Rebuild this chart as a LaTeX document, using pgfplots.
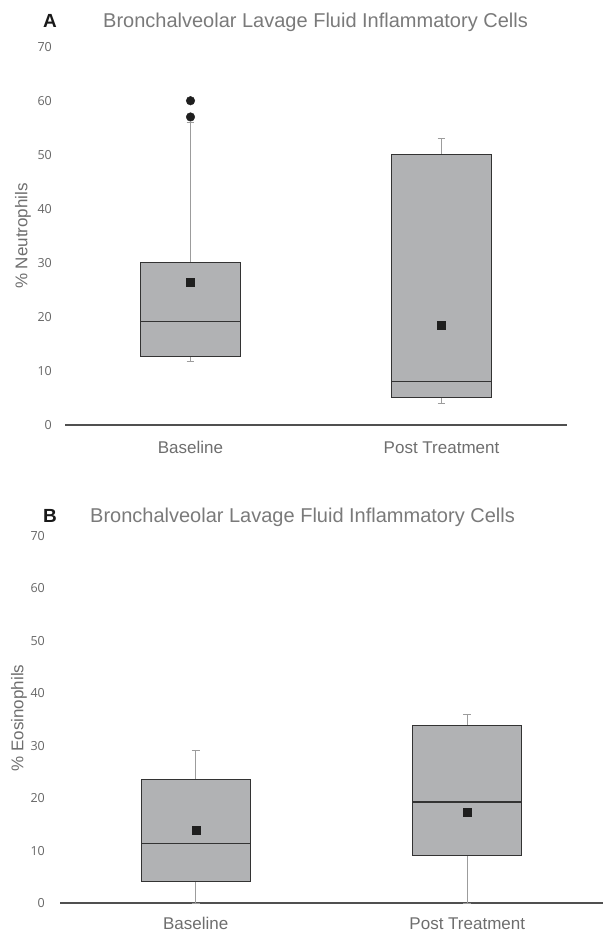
\documentclass[border=0pt]{standalone}
\usepackage{pgfplots}
\pgfplotsset{compat=1.18}
\usepgfplotslibrary{statistics}
\usepackage{fontspec}
\setmainfont{Liberation Sans}
\newfontfamily\tickfont{Open Sans}
\definecolor{boxfill}{HTML}{B1B2B4}
\definecolor{boxdark}{HTML}{333333}
\definecolor{whiskcol}{HTML}{9C9C9C}
\definecolor{axiscol}{HTML}{505050}
\definecolor{tickcol}{HTML}{666666}
\definecolor{labcol}{HTML}{6E6E6E}
\definecolor{titlecol}{HTML}{7A7A7A}
\begin{document}
\begin{tikzpicture}
\useasboundingbox (0pt,0pt) rectangle (603pt,-933pt);
\pgfplotsset{common/.style={
  scale only axis, clip=false,
  xmin=-0.5, xmax=1.5, ymin=0, ymax=70,
  ytick={0,10,...,70}, xtick={0,1}, xticklabels={Baseline,Post Treatment},
  axis x line*=bottom, axis y line*=left,
  y axis line style={draw=none},
  x axis line style={-, draw=axiscol, line width=1.1pt},
  major tick length=0pt, tick style={draw=none},
  /pgf/number format/assume math mode=true,
  yticklabel style={font=\tickfont\fontsize{12.5}{13}\selectfont, text=tickcol, anchor=east, inner sep=0pt},
  xticklabel style={font=\fontsize{17}{18}\selectfont, text=labcol, anchor=base, inner sep=0pt},
  boxplot/draw direction=y,
  boxplot/every box/.style={draw=boxdark, fill=boxfill, line width=1pt},
  boxplot/every median/.style={draw=boxdark, line width=1.2pt},
  boxplot/every whisker/.style={draw=whiskcol, line width=1pt},
  boxplot/box extend=0.4, boxplot/whisker extend=0.03,
}}
% ---------- Panel A ----------
\begin{axis}[common, at={(65pt,-425pt)}, anchor=south west, width=502pt, height=378.3pt,
  yticklabel style={xshift=-13pt}, xticklabel style={yshift=-28pt}]
\addplot[boxplot prepared={draw position=0, lower whisker=11.8, lower quartile=12.75,
  median=19.2, upper quartile=30, upper whisker=56}] coordinates {};
\addplot[boxplot prepared={draw position=1, lower whisker=4, lower quartile=5,
  median=8, upper quartile=50, upper whisker=53}] coordinates {};
\addplot[only marks, mark=*, mark size=4.3pt, color=black!88] coordinates {(0,60) (0,57)};
\addplot[only marks, mark=square*, mark size=4pt, color=black!88] coordinates {(0,26.5) (1,18.5)};
\end{axis}
\node[anchor=base, font=\bfseries\fontsize{19}{20}\selectfont, text=black!90] at (50pt,-27.5pt) {A};
\node[anchor=base west, inner sep=0pt, font=\fontsize{20}{22}\selectfont, text=titlecol] at (103pt,-27.8pt) {Bronchalveolar Lavage Fluid Inflammatory Cells};
\node[rotate=90, font=\fontsize{17}{18}\selectfont, text=labcol] at (23pt,-236pt) {\% Neutrophils};
% ---------- Panel B ----------
\begin{axis}[common, at={(60pt,-903pt)}, anchor=south west, width=543pt, height=367.3pt,
  yticklabel style={xshift=-15pt}, xticklabel style={yshift=-26pt}]
\addplot[boxplot prepared={draw position=0, lower whisker=0, lower quartile=4.1,
  median=11.3, upper quartile=23.6, upper whisker=29}] coordinates {};
\addplot[boxplot prepared={draw position=1, lower whisker=0, lower quartile=9,
  median=19.25, upper quartile=33.9, upper whisker=36}] coordinates {};
\addplot[only marks, mark=square*, mark size=4pt, color=black!88] coordinates {(0,13.9) (1,17.3)};
\end{axis}
\node[anchor=base, font=\bfseries\fontsize{19}{20}\selectfont, text=black!90] at (50pt,-522.5pt) {B};
\node[anchor=base west, inner sep=0pt, font=\fontsize{20}{22}\selectfont, text=titlecol] at (90pt,-522.8pt) {Bronchalveolar Lavage Fluid Inflammatory Cells};
\node[rotate=90, font=\fontsize{17}{18}\selectfont, text=labcol] at (19pt,-718pt) {\% Eosinophils};
\end{tikzpicture}
\end{document}
